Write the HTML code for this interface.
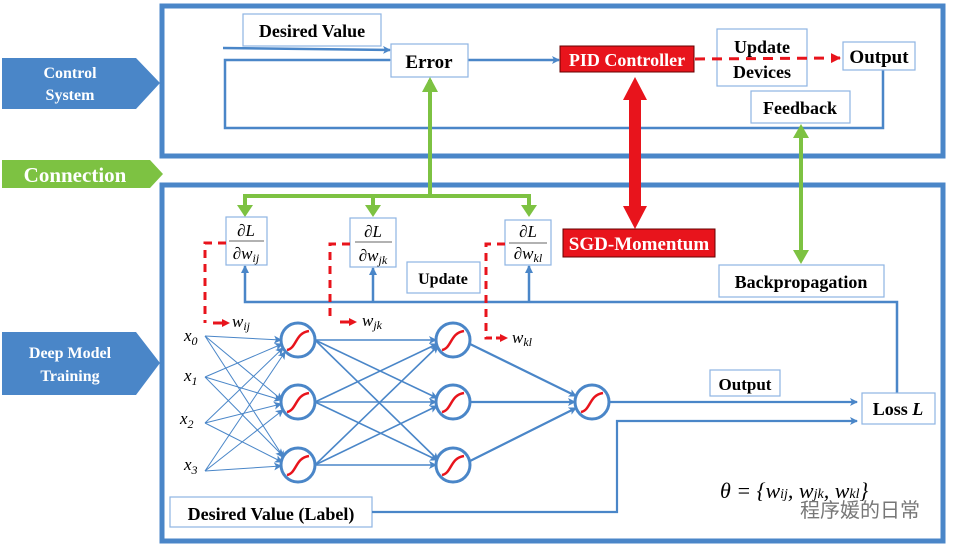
<!DOCTYPE html>
<html><head><meta charset="utf-8"><style>
body{margin:0;background:#fff;}
svg{display:block;}
</style></head><body>
<svg width="975" height="549" viewBox="0 0 975 549" xmlns="http://www.w3.org/2000/svg" font-family="'Liberation Serif', serif" font-weight="bold">
<defs>
<marker id="ab" markerWidth="8" markerHeight="8" refX="7" refY="4" orient="auto" markerUnits="userSpaceOnUse"><path d="M0,0 L8,4 L0,8 L2,4z" fill="#4a86c8"/></marker>
<marker id="ar" markerWidth="10" markerHeight="10" refX="9" refY="5" orient="auto" markerUnits="userSpaceOnUse"><path d="M0,0 L10,5 L0,10z" fill="#e8141c"/></marker>
</defs>
<rect x="162" y="6" width="781" height="150" fill="none" stroke="#4a86c8" stroke-width="5"/>
<rect x="162" y="185" width="781" height="356" fill="none" stroke="#4a86c8" stroke-width="5"/>
<path d="M2,58 L136,58 L160,83 L136,109 L2,109z" fill="#4a86c8"/>
<text x="70" y="78" fill="#fff" font-size="16" text-anchor="middle">Control</text>
<text x="70" y="100" fill="#fff" font-size="16" text-anchor="middle">System</text>
<path d="M2,160 L150,160 L163,174 L150,188 L2,188z" fill="#7dc242"/>
<text x="75" y="182" fill="#fff" font-size="21" text-anchor="middle">Connection</text>
<path d="M2,332 L136,332 L160,363 L136,395 L2,395z" fill="#4a86c8"/>
<text x="70" y="358" fill="#fff" font-size="16" text-anchor="middle">Deep Model</text>
<text x="70" y="381" fill="#fff" font-size="16" text-anchor="middle">Training</text>
<g stroke="#4a86c8" stroke-width="2.5" fill="none">
<line x1="223" y1="48" x2="390" y2="50" marker-end="url(#ab)"/>
<polyline points="390,60 225,60 225,128 883,128 883,68" marker-start="url(#ab)"/>
<line x1="468" y1="60" x2="559" y2="60" marker-end="url(#ab)"/>
</g>
<g fill="#fff" stroke="#8eb4e3" stroke-width="1.2">
<rect x="243" y="14" width="138" height="32"/>
<rect x="391" y="44" width="77" height="33"/>
<rect x="717" y="29" width="90" height="57"/>
<rect x="843" y="42" width="72" height="28"/>
<rect x="751" y="91" width="99" height="32"/>
</g>
<text x="312" y="37" font-size="18" text-anchor="middle">Desired Value</text>
<text x="429" y="68" font-size="19" text-anchor="middle">Error</text>
<text x="762" y="53" font-size="18" text-anchor="middle">Update</text>
<text x="762" y="78" font-size="18" text-anchor="middle">Devices</text>
<line x1="695" y1="59" x2="840" y2="58" stroke="#e8141c" stroke-width="3" stroke-dasharray="10,7" marker-end="url(#ar)"/>
<text x="879" y="63" font-size="19" text-anchor="middle">Output</text>
<text x="800" y="114" font-size="18" text-anchor="middle">Feedback</text>
<rect x="560" y="46" width="134" height="26" fill="#e8141c" stroke="#600" stroke-width="1"/>
<text x="627" y="66" font-size="18" fill="#fff" text-anchor="middle">PID Controller</text>
<rect x="629" y="98" width="12" height="110" fill="#e8141c"/>
<path d="M635,77 L647,100 L623,100z M635,229 L647,206 L623,206z" fill="#e8141c"/>
<rect x="563" y="229" width="152" height="28" fill="#e8141c" stroke="#600" stroke-width="1"/>
<text x="639" y="250" font-size="19" fill="#fff" text-anchor="middle">SGD-Momentum</text>
<g stroke="#7dc242" stroke-width="4" fill="none">
<line x1="430" y1="196" x2="430" y2="80"/>
<polyline points="245,214 245,196 529,196 529,214"/>
<line x1="373" y1="196" x2="373" y2="214"/>
<line x1="801" y1="130" x2="801" y2="258"/>
</g>
<g fill="#7dc242">
<path d="M430,77 L438,92 L422,92z"/>
<path d="M245,217 L237,205 L253,205z M373,217 L365,205 L381,205z M529,217 L521,205 L537,205z"/>
<path d="M801,124 L809,138 L793,138z M801,264 L809,250 L793,250z"/>
</g>
<g stroke="#4a86c8" stroke-width="2.5" fill="none">
<polyline points="245,266 245,302 897,302 897,393"/>
<line x1="373" y1="302" x2="373" y2="268"/>
<line x1="529" y1="302" x2="529" y2="266"/>
</g>
<path d="M245,265 L241,273 L249,273z M373,267 L369,275 L377,275z M529,265 L525,273 L533,273z" fill="#4a86c8"/>
<g fill="#fff" stroke="#8eb4e3" stroke-width="1.2">
<rect x="226" y="217" width="41" height="48"/>
<rect x="350" y="218" width="46" height="49"/>
<rect x="505" y="220" width="46" height="45"/>
<rect x="407" y="262" width="73" height="31"/>
<rect x="719" y="265" width="165" height="32"/>
<rect x="710" y="370" width="70" height="26"/>
<rect x="862" y="393" width="73" height="31"/>
<rect x="170" y="497" width="202" height="30"/>
</g>
<g font-style="italic" font-weight="normal" font-size="17" text-anchor="middle">
<text x="246" y="236">∂L</text><text x="246" y="259">∂w<tspan font-size="12" dy="3">ij</tspan></text>
<text x="373" y="237">∂L</text><text x="373" y="261">∂w<tspan font-size="12" dy="3">jk</tspan></text>
<text x="528" y="237">∂L</text><text x="528" y="259">∂w<tspan font-size="12" dy="3">kl</tspan></text>
</g>
<g stroke="#666" stroke-width="1"><line x1="229" y1="241" x2="264" y2="241"/><line x1="355" y1="242" x2="392" y2="242"/><line x1="509" y1="243" x2="547" y2="243"/></g>
<text x="443" y="284" font-size="16" text-anchor="middle">Update</text>
<text x="801" y="288" font-size="18" text-anchor="middle">Backpropagation</text>
<text x="745" y="390" font-size="17" text-anchor="middle">Output</text>
<text x="898" y="415" font-size="18" text-anchor="middle">Loss <tspan font-style="italic">L</tspan></text>
<text x="271" y="520" font-size="18" text-anchor="middle">Desired Value (Label)</text>
<g stroke="#e8141c" stroke-width="3" stroke-dasharray="8,6" fill="none">
<polyline points="226,243 205,243 205,323"/>
<polyline points="350,244 330,244 330,322"/>
<polyline points="505,244 486,244 486,338 492,338"/>
</g>
<g stroke="#e8141c" stroke-width="3"><line x1="213" y1="323" x2="222" y2="323"/><line x1="340" y1="322" x2="349" y2="322"/><line x1="496" y1="338" x2="500" y2="338"/></g>
<path d="M222,319 L230,323 L222,327z M349,318 L357,322 L349,326z M500,334 L508,338 L500,342z" fill="#e8141c"/>
<g font-style="italic" font-weight="normal" font-size="17">
<text x="232" y="327">w<tspan font-size="12" dy="3">ij</tspan></text>
<text x="362" y="326">w<tspan font-size="12" dy="3">jk</tspan></text>
<text x="512" y="343">w<tspan font-size="12" dy="3">kl</tspan></text>
<text x="184" y="341">x<tspan font-size="12" dy="4">0</tspan></text>
<text x="184" y="381">x<tspan font-size="12" dy="4">1</tspan></text>
<text x="180" y="424">x<tspan font-size="12" dy="4">2</tspan></text>
<text x="184" y="470">x<tspan font-size="12" dy="4">3</tspan></text>
</g>
<g stroke="#4a86c8" stroke-width="1" fill="none" marker-end="url(#ab)">
<line x1="205" y1="336" x2="281" y2="340"/><line x1="205" y1="336" x2="282" y2="400"/><line x1="205" y1="336" x2="284" y2="458"/>
<line x1="205" y1="377" x2="282" y2="344"/><line x1="205" y1="377" x2="281" y2="400"/><line x1="205" y1="377" x2="283" y2="456"/>
<line x1="205" y1="423" x2="283" y2="348"/><line x1="205" y1="423" x2="281" y2="404"/><line x1="205" y1="423" x2="282" y2="462"/>
<line x1="205" y1="471" x2="285" y2="352"/><line x1="205" y1="471" x2="283" y2="410"/><line x1="205" y1="471" x2="281" y2="466"/>
</g>
<g stroke="#4a86c8" stroke-width="1.6" fill="none" marker-end="url(#ab)">
<line x1="315" y1="340" x2="436" y2="340"/><line x1="315" y1="340" x2="437" y2="398"/><line x1="315" y1="340" x2="438" y2="460"/>
<line x1="315" y1="402" x2="437" y2="344"/><line x1="315" y1="402" x2="436" y2="402"/><line x1="315" y1="402" x2="437" y2="460"/>
<line x1="315" y1="465" x2="438" y2="346"/><line x1="315" y1="465" x2="437" y2="406"/><line x1="315" y1="465" x2="436" y2="465"/>
</g>
<g stroke="#4a86c8" stroke-width="2.2" fill="none" marker-end="url(#ab)">
<line x1="470" y1="344" x2="576" y2="396"/><line x1="470" y1="402" x2="575" y2="402"/><line x1="470" y1="461" x2="576" y2="408"/>
<line x1="610" y1="402" x2="857" y2="402"/>
<polyline points="372,512 617,512 617,421 857,421"/>
</g>
<g fill="#fff" stroke="#4a86c8" stroke-width="3">
<circle cx="298" cy="340" r="17"/><circle cx="298" cy="402" r="17"/><circle cx="298" cy="465" r="17"/>
<circle cx="453" cy="340" r="17"/><circle cx="453" cy="402" r="17"/><circle cx="453" cy="465" r="17"/>
<circle cx="592" cy="402" r="17"/>
</g>
<g stroke="#e8141c" stroke-width="2.5" fill="none">
<path d="M287,350 C297,348 295,333 309,331"/><path d="M287,412 C297,410 295,395 309,393"/><path d="M287,475 C297,473 295,458 309,456"/>
<path d="M442,350 C452,348 450,333 464,331"/><path d="M442,412 C452,410 450,395 464,393"/><path d="M442,475 C452,473 450,458 464,456"/>
<path d="M581,412 C591,410 589,395 603,393"/>
</g>
<text x="720" y="498" font-size="22" font-style="italic" font-weight="normal">θ = {w<tspan font-size="14">ij</tspan>, w<tspan font-size="14">jk</tspan>, w<tspan font-size="14">kl</tspan>}</text>
<text x="800" y="517" font-size="20" fill="#777" font-weight="normal" font-family="'Noto Sans CJK SC', sans-serif">程序媛的日常</text>
</svg>
</body></html>
